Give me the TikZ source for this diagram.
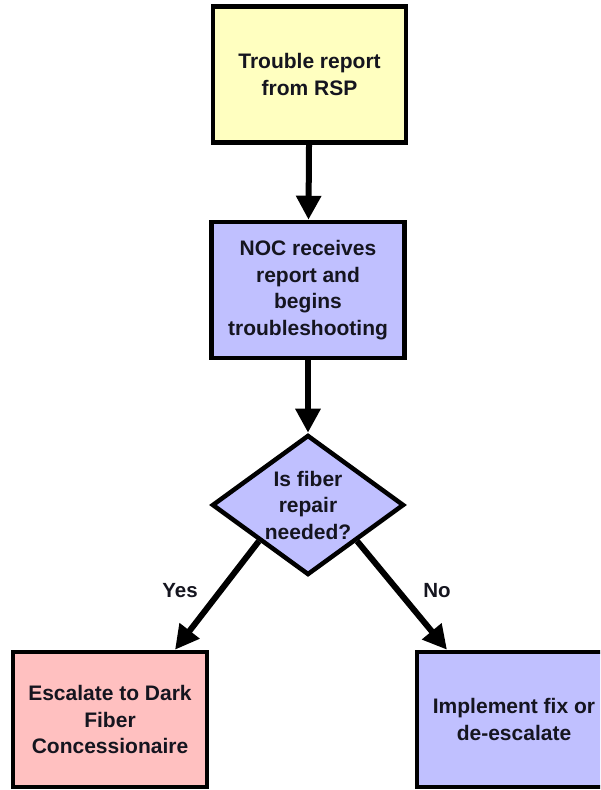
\documentclass[tikz,border=0pt]{standalone}
\usepackage{fontspec}
\setmainfont{Liberation Sans}
\usetikzlibrary{shapes.geometric,arrows.meta}
\definecolor{boxyellow}{HTML}{FFFFC0}
\definecolor{boxblue}{HTML}{C0C0FF}
\definecolor{boxpink}{HTML}{FFC0C0}
\definecolor{txt}{HTML}{15151F}
\tikzset{
  stepbox/.style={draw=black, line width=4.5pt, rectangle, align=center, inner sep=0pt,
    minimum width=193pt, minimum height=136pt, text=txt,
    font=\fontsize{21}{26.5}\selectfont\bfseries},
  decision/.style={draw=black, line width=4.5pt, diamond, align=center, inner sep=0pt,
    aspect=1.37, minimum width=192pt, minimum height=140pt, text=txt, fill=boxblue,
    font=\fontsize{21}{26.5}\selectfont\bfseries},
  flow/.style={line width=6pt, -{Triangle[width=24pt,length=24pt]}},
  lbl/.style={text=txt, font=\fontsize{20.5}{24}\selectfont\bfseries}
}
\begin{document}
\begin{tikzpicture}[x=1pt,y=-1pt]
\useasboundingbox (0,0) rectangle (600,790);
\begin{scope}
\clip (0,0) rectangle (600,790);
\node[stepbox, fill=boxyellow] (rsp) at (309.5,74.5) {Trouble report\\from RSP};
\node[stepbox, fill=boxblue] (noc) at (308,290) {NOC receives\\report and\\begins\\troubleshooting};
\node[decision] (dia) at (308,505) {Is fiber\\repair\\needed?};
\node[stepbox, fill=boxpink, minimum width=194pt, minimum height=135pt] (esc) at (110,719.5) {Escalate to Dark\\Fiber\\Concessionaire};
\node[stepbox, fill=boxblue, minimum width=194pt, minimum height=135pt] (fix) at (514,719.5) {Implement fix or\\de-escalate};
\draw[flow] (rsp) -- (noc);
\draw[flow] (noc) -- (dia);
\draw[flow] (dia.south west) -- ([xshift=65pt]esc.north);
\draw[flow] (dia.south east) -- ([xshift=-67pt]fix.north);
\node[lbl] (yes) at (180,591) {Yes};
\node[lbl] (no) at (437,591) {No};
\end{scope}
\end{tikzpicture}
\end{document}
